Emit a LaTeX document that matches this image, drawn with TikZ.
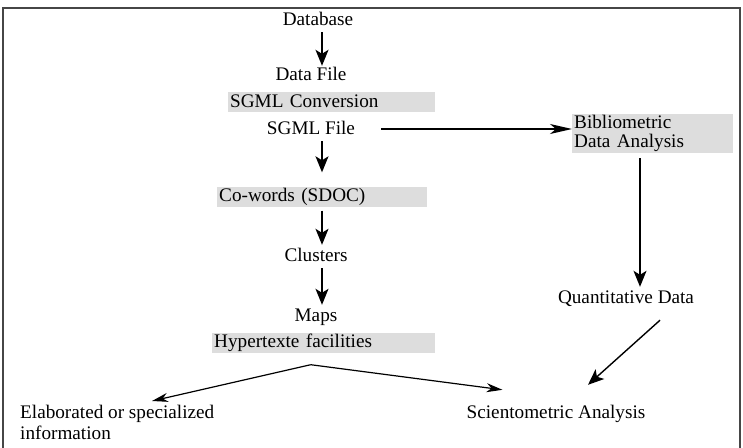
\documentclass[tikz,border=0pt]{standalone}
\usepackage{fontspec}
\setmainfont{Liberation Serif}
\usetikzlibrary{arrows.meta,positioning,calc}
\definecolor{boxgray}{RGB}{221,221,221}
\definecolor{framegray}{RGB}{70,70,70}
\tikzset{
  txt/.style={inner sep=0pt,text height=14pt,text depth=4pt},
  graybox/.style={txt,fill=boxgray,anchor=west,inner xsep=2pt,align=left,minimum height=20pt},
  arr/.style={line width=1.4pt,-{Stealth[length=16pt,width=13pt,inset=4pt]}},
  thinarr/.style={line width=1.2pt,-{Stealth[length=16pt,width=9pt,inset=5pt]}}
}
\begin{document}
\begin{tikzpicture}[x=1pt,y=-1pt,font=\fontsize{19.2}{19.5}\selectfont]
\useasboundingbox (0,0) rectangle (743,447);
\draw[line width=2pt,framegray] (3,470) -- (3,8) -- (740,8) -- (740,470);
\coordinate (lcol) at (322,0);
\coordinate (rcol) at (640,0);
\node[txt] (db) at (318,20) {Database};
\node[txt] (dfile) at (311,75) {Data File};
\node[graybox,text width=203pt] (conv) at (228,102) {SGML Conversion};
\node[txt] (sfile) at (311,129) {SGML File};
\node[graybox,text width=206pt] (cowords) at (217,196.5) {Co-words (SDOC)};
\node[txt] (clus) at (316,256) {Clusters};
\node[txt] (maps) at (316,316) {Maps};
\node[graybox,text width=219pt] (hyper) at (212,342.5) {Hypertexte facilities};
\node[fill=boxgray,anchor=west,inner xsep=2pt,inner ysep=0pt,align=left,text width=157pt,minimum height=39pt,font=\fontsize{19.2}{19pt}\selectfont] (biblio) at (572,133.5) {Bibliometric\\Data Analysis};
\node[txt] (quant) at (626,298) {Quantitative Data};
\node[txt] (scient) at (556,413) {Scientometric Analysis};
\node[inner sep=0pt,anchor=base west,align=left,font=\fontsize{19.2}{21pt}\selectfont] (elab) at (20,439) {Elaborated or specialized\\information};
% left column
\draw[arr,shorten <=3pt] (db.south -| lcol) -- (dfile.north -| lcol);
\draw[arr,shorten <=3pt,shorten >=14pt] (sfile.south -| lcol) -- (cowords.north -| lcol);
\draw[arr,shorten <=4pt,shorten >=2pt] (cowords.south -| lcol) -- (clus.north -| lcol);
\draw[arr,shorten <=3pt,shorten >=2pt] (clus.south -| lcol) -- (maps.north -| lcol);
% right column
\draw[line width=1.4pt,-{Stealth[length=22pt,width=10pt,inset=6pt]},shorten <=26pt] (sfile.east) -- (biblio.west |- sfile.east);
\draw[arr,shorten <=5pt,shorten >=2pt] (biblio.south -| rcol) -- (quant.north -| rcol);
\draw[arr] ($(quant.south)+(34,13)$) -- ($(scient.north)+(32,-19)$);
% fork below the maps
\coordinate (fork) at ($(hyper.south)+(-13,12)$);
\draw[thinarr] (fork) -- ($(elab.base west)+(132,-38)$);
\draw[thinarr] (fork) -- ($(scient.north west)+(36,-14)$);
\end{tikzpicture}
\end{document}
